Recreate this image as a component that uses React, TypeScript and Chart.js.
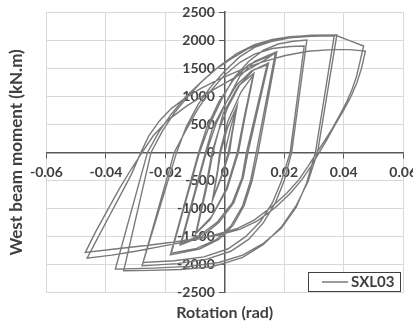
import React, { useEffect, useRef } from 'react';
import { Chart, registerables } from 'chart.js';

Chart.register(...registerables);

const seriesName = 'SXL03';
const xTitle = 'Rotation (rad)';
const yTitle = 'West beam moment (kN.m)';

// Rotation (rad) / moment (kN.m), one pair of arrays per loading amplitude
const rotC1 = [0, 0.002, 0.004, 0.0025, 0.0012, -0.001, -0.004, -0.0025, -0.0014, 0.001, 0.0042, 0.0024, 0.0016, -0.0012, -0.0042, -0.0024, -0.0017];
const momC1 = [0, 450, 800, 380, 0, -400, -820, -380, 0, 450, 840, 300, 0, -450, -860, -300, 0];

const rotC2 = [0.001, 0.0055, 0.0095, 0.0065, 0.0042, 0.0005, -0.0045, -0.0095, -0.0062, -0.004, -0.0005, 0.0045, 0.0098, 0.0067, 0.0046, 0.0008, -0.005, -0.0098, -0.0064, -0.0043];
const momC2 = [550, 1080, 1370, 620, 0, -650, -1150, -1420, -650, 0, 700, 1180, 1410, 600, 0, -650, -1200, -1450, -620, 0];

const rotC3 = [-0.002, 0.001, 0.005, 0.0095, 0.0147, 0.0078, 0.0062, 0.003, -0.002, -0.0078, -0.015, -0.0065, -0.004, 0, 0.004, 0.009, 0.0142, 0.0073, 0.0058, 0.0025, -0.0025, -0.0085, -0.0146, -0.0062];
const momC3 = [400, 800, 1200, 1460, 1590, 0, -450, -900, -1250, -1500, -1650, 0, 450, 850, 1200, 1450, 1560, 0, -450, -900, -1240, -1480, -1620, 0];

const rotC4 = [-0.003, 0.001, 0.005, 0.01, 0.0175, 0.0112, 0.0092, 0.0065, 0.0028, -0.002, -0.0085, -0.0183, -0.0088, -0.006, -0.002, 0.003, 0.008, 0.017, 0.0106, 0.0087, 0.006, 0.0022, -0.003, -0.0095, -0.018, -0.0085];
const momC4 = [500, 950, 1350, 1620, 1793, 0, -500, -950, -1300, -1550, -1720, -1825, 0, 450, 900, 1300, 1560, 1765, 0, -500, -950, -1300, -1560, -1710, -1795, 0];

const rotC5 = [-0.005, -0.001, 0.003, 0.008, 0.013, 0.018, 0.023, 0.0276, 0.0225, 0.02, 0.017, 0.013, 0.008, 0.002, -0.006, -0.016, -0.0278, -0.017, -0.013, -0.009, -0.005, 0, 0.005, 0.01, 0.016, 0.022, 0.0267, 0.022, 0.019, 0.016, 0.012, 0.007, 0.001, -0.007, -0.017, -0.0275, -0.0162];
const momC5 = [500, 950, 1320, 1620, 1820, 1930, 1980, 2001, 0, -500, -900, -1250, -1550, -1760, -1900, -1980, -2020, 0, 400, 780, 1080, 1380, 1600, 1750, 1850, 1885, 1895, 0, -520, -900, -1230, -1500, -1720, -1860, -1930, -1960, 0];

const rotC6 = [-0.013, -0.009, -0.005, 0, 0.005, 0.01, 0.016, 0.022, 0.029, 0.0368, 0.0305, 0.0275, 0.024, 0.019, 0.013, 0.006, -0.002, -0.012, -0.024, -0.0368, -0.026, -0.022, -0.018, -0.013, -0.008, -0.003, 0.002, 0.008, 0.014, 0.021, 0.029, 0.0377, 0.0312, 0.028, 0.024, 0.019, 0.013, 0.006, 0, -0.0049, -0.015, -0.025, -0.034, -0.0248];
const momC6 = [450, 850, 1150, 1450, 1700, 1870, 1980, 2040, 2068, 2075, 0, -550, -980, -1350, -1620, -1830, -1960, -2030, -2060, -2078, 0, 380, 680, 1000, 1250, 1480, 1660, 1850, 1970, 2050, 2085, 2092, 0, -520, -950, -1330, -1640, -1870, -1971, -2040, -2085, -2100, -2108, 0];

const rotC7 = [-0.021, -0.017, -0.012, -0.007, -0.002, 0.004, 0.01, 0.016, 0.022, 0.03, 0.0375, 0.042, 0.0467, 0.0455, 0.0443, 0.0428, 0.041, 0.0388, 0.0362, 0.0335, 0.031, 0.028, 0.025, 0.021, 0.016, 0.01, 0.004, -0.004, -0.012, -0.02, -0.03, -0.038, -0.0463, -0.043, -0.0395, -0.0355, -0.0315, -0.0282, -0.0255, -0.022, -0.018, -0.013, -0.008, -0.002, 0.005, 0.012, 0.02, 0.028, 0.036, 0.042, 0.0473, 0.046, 0.0445, 0.0425, 0.04, 0.037, 0.0345, 0.0318, 0.029, 0.026, 0.022, 0.017, 0.011, 0.005, -0.002, -0.012, -0.025, -0.037, -0.0469, -0.0435, -0.04, -0.0355, -0.0315, -0.0278, -0.024, -0.019, -0.013, -0.006, 0.001, 0.008, 0.013, 0.0175];
const momC7 = [380, 700, 1020, 1300, 1530, 1760, 1920, 2010, 2060, 2088, 2082, 1990, 1895, 1620, 1350, 1120, 900, 680, 430, 200, 0, -250, -480, -720, -960, -1200, -1360, -1480, -1580, -1660, -1760, -1830, -1882, -1550, -1200, -800, -400, 0, 300, 560, 780, 980, 1140, 1300, 1460, 1600, 1720, 1800, 1830, 1830, 1805, 1500, 1250, 1000, 750, 480, 240, 0, -250, -480, -730, -980, -1220, -1370, -1470, -1560, -1650, -1720, -1782, -1420, -1080, -650, -300, 0, 300, 580, 820, 1050, 1260, 1480, 1630, 1790];

const rotation = [...rotC1, ...rotC2, ...rotC3, ...rotC4, ...rotC5, ...rotC6, ...rotC7];
const moment = [...momC1, ...momC2, ...momC3, ...momC4, ...momC5, ...momC6, ...momC7];

const xMin = -0.06;
const xMax = 0.06;
const xStep = 0.02;
const yMin = -2500;
const yMax = 2500;
const yStep = 500;

const FONT = 'Lato';
const TEXT = '#404040';
const AXIS = '#595959';
const GRID = '#d9d9d9';
const LINE = '#7a7a7a';

// y labels sit left of the centred axis with a gap, like the original
const shiftYLabels = {
  id: 'shiftYLabels',
  afterLayout(chart: any) {
    const s: any = chart.scales.y;
    if (!s || s.__shifted) return;
    const orig = s.drawLabels;
    s.drawLabels = function (area: any) {
      const c = this.ctx;
      c.save();
      c.translate(-10, 0);
      orig.call(this, area);
      c.restore();
    };
    s.__shifted = true;
  },
};

const boxLegend = {
  id: 'boxLegend',
  afterDraw(chart: any) {
    const { ctx, chartArea } = chart;
    const ds = chart.data.datasets[0];
    const w = 92;
    const h = 19;
    const x = Math.round(chartArea.right - 3 - w);
    const y = Math.round(chartArea.bottom - 2 - h);
    ctx.save();
    ctx.fillStyle = '#ffffff';
    ctx.fillRect(x, y, w, h);
    ctx.strokeStyle = TEXT;
    ctx.lineWidth = 1;
    ctx.strokeRect(x + 0.5, y + 0.5, w, h);
    ctx.strokeStyle = ds.borderColor;
    ctx.lineWidth = 1.5;
    ctx.beginPath();
    ctx.moveTo(x + 14, y + h / 2 + 0.5);
    ctx.lineTo(x + 40, y + h / 2 + 0.5);
    ctx.stroke();
    ctx.fillStyle = TEXT;
    ctx.font = `bold 15px ${FONT}`;
    ctx.textBaseline = 'middle';
    ctx.textAlign = 'left';
    ctx.fillText(ds.label, x + 43, y + h / 2 + 1);
    ctx.restore();
  },
};

export default function App() {
  const ref = useRef<HTMLCanvasElement | null>(null);

  useEffect(() => {
    if (!ref.current) return;
    const points = rotation.map((r, i) => ({ x: r, y: moment[i] }));
    const tickFont = { family: FONT, size: 14, weight: 'bold' as const, lineHeight: 1.0 };
    const chart = new Chart(ref.current, {
      type: 'scatter',
      data: {
        datasets: [
          {
            label: seriesName,
            data: points,
            showLine: true,
            borderColor: LINE,
            backgroundColor: LINE,
            borderWidth: 1.4,
            pointRadius: 0,
            tension: 0,
            xAxisID: 'x',
            yAxisID: 'y',
          },
        ],
      },
      options: {
        animation: false,
        responsive: false,
        events: [],
        layout: { padding: 0 },
        plugins: {
          legend: { display: false },
          tooltip: { enabled: false },
        },
        scales: {
          x: {
            type: 'linear',
            position: { y: 0 },
            min: xMin,
            max: xMax,
            ticks: {
              stepSize: xStep,
              autoSkip: false,
              maxRotation: 0,
              padding: 8,
              font: tickFont,
              color: TEXT,
              callback: (v: any) => (Math.abs(Number(v)) < 1e-9 ? '0' : Number(v).toFixed(2)),
            },
            grid: { color: GRID, lineWidth: 1, tickColor: AXIS, tickLength: 5 },
            border: { color: AXIS, width: 1.5 },
          },
          y: {
            type: 'linear',
            position: { x: 0 },
            min: yMin,
            max: yMax,
            ticks: {
              stepSize: yStep,
              autoSkip: false,
              padding: 5,
              font: tickFont,
              color: TEXT,
              callback: (v: any) => String(Math.round(Number(v))),
            },
            grid: { color: GRID, lineWidth: 1, tickColor: AXIS, tickLength: 5 },
            border: { color: AXIS, width: 1.5 },
          },
          x2: {
            type: 'linear',
            position: 'bottom',
            min: 0,
            max: 1,
            ticks: { display: false },
            grid: { display: false, drawTicks: false },
            border: { display: false },
            title: { display: true, text: xTitle, font: { family: FONT, size: 16, weight: 'bold' }, color: TEXT, padding: { top: 10, bottom: 0 } },
          },
          y2: {
            type: 'linear',
            position: 'left',
            min: 0,
            max: 1,
            ticks: { display: false },
            grid: { display: false, drawTicks: false },
            border: { display: false },
            title: { display: true, text: yTitle, font: { family: FONT, size: 17, weight: 'bold' }, color: TEXT, padding: { top: 6, bottom: 20 } },
          },
        },
      },
      plugins: [shiftYLabels, boxLegend],
    });
    return () => chart.destroy();
  }, []);

  return (
    <div style={{ position: 'fixed', left: 0, top: 0, width: 413, height: 322, overflow: 'hidden', background: '#fff' }}>
      <canvas ref={ref} width={425} height={322} style={{ width: 425, height: 322, display: 'block' }} />
    </div>
  );
}
